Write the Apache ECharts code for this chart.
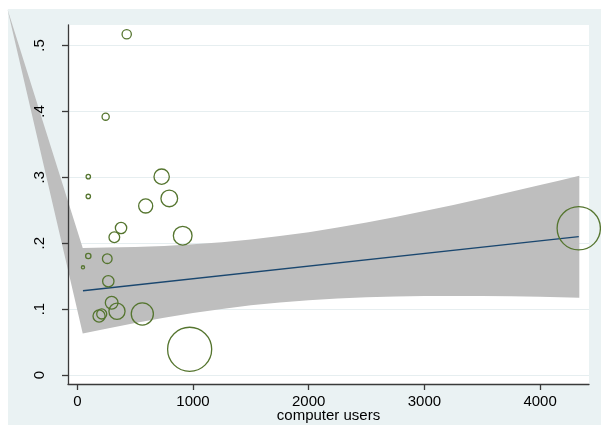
<!DOCTYPE html>
<html><head><meta charset="utf-8">
<script src="https://cdn.jsdelivr.net/npm/echarts@6/dist/echarts.min.js"></script>
<style>html,body{margin:0;padding:0;background:#fff}#c{width:601px;height:425px}</style>
</head><body><div id="c"></div>
<script>
// scatter: computer users (x), share (y), weight (marker area)
const usersX = [427, 245, 95, 95, 729, 795, 591, 378, 320, 911, 95, 49, 259, 268, 297, 343, 188, 211, 562, 971, 4334];
const shareY = [0.517, 0.392, 0.301, 0.271, 0.301, 0.268, 0.2565, 0.223, 0.209, 0.2114, 0.1806, 0.1634, 0.1765, 0.1422, 0.1097, 0.0967, 0.0895, 0.0926, 0.0926, 0.039, 0.2226];
const weights = [28, 18, 8, 8, 69, 81, 59, 40, 36, 100, 11, 5, 30, 40, 49, 76, 45, 32, 137, 515, 497];
// linear fit
const fitX = [49, 4334];
const fitY = [0.1279, 0.2099];
// confidence band
const ciX = [47, 250, 500, 750, 1000, 1250, 1500, 1750, 2000, 2250, 2500, 2750, 3000, 3250, 3500, 3750, 4000, 4170, 4339];
const ciUpper = [0.1929, 0.1933, 0.1944, 0.1959, 0.1983, 0.2015, 0.2057, 0.2108, 0.2168, 0.2237, 0.2315, 0.2398, 0.2487, 0.2581, 0.2679, 0.2779, 0.2882, 0.2952, 0.3024];
const ciLower = [0.0629, 0.0702, 0.0788, 0.0867, 0.0939, 0.1002, 0.1057, 0.1101, 0.1136, 0.1162, 0.1181, 0.1192, 0.1199, 0.1200, 0.1199, 0.1194, 0.1186, 0.1180, 0.1174];
const ciApex = [-604, 0.5554];
// ticks
const xTicks = [0, 1000, 2000, 3000, 4000];
const xTickLabels = ['0', '1000', '2000', '3000', '4000'];
const yTicks = [0, 0.1, 0.2, 0.3, 0.4, 0.5];
const yTickLabels = ['0', '.1', '.2', '.3', '.4', '.5'];

const bandPts = [ciApex]
  .concat(ciX.map((x, i) => [x, ciUpper[i]]))
  .concat(ciX.map((x, i) => [x, ciLower[i]]).reverse());

function labelFor(ticks, labels, v) {
  for (let i = 0; i < ticks.length; i++) if (Math.abs(ticks[i] - v) < 1e-9) return labels[i];
  return '';
}
const font = { fontFamily: 'Liberation Sans', fontSize: 15, color: '#000' };
const axisCol = '#3a3a3a';
const yMin = -0.01366, yMax = 0.5311;

const chart = echarts.init(document.getElementById('c'), null, { renderer: 'canvas' });
chart.setOption({
  animation: false,
  backgroundColor: '#ffffff',
  graphic: [{
    type: 'rect', left: 8, top: 9, z: -100,
    shape: { width: 593, height: 416 },
    style: { fill: '#EAF2F3' }
  }],
  grid: { left: 68, right: 12, top: 25, bottom: 41, show: true, backgroundColor: '#ffffff', borderWidth: 0, outerBoundsMode: 'none', containLabel: false },
  xAxis: {
    type: 'value', min: -80.4, max: 4422.6, z: 10,
    axisLine: { show: true, onZero: false, lineStyle: { color: axisCol, width: 1.3 } },
    axisTick: { show: true, length: 6, customValues: xTicks, lineStyle: { color: axisCol, width: 1.3 } },
    axisLabel: { customValues: xTicks, margin: 10, formatter: v => labelFor(xTicks, xTickLabels, v), ...font },
    splitLine: { show: false },
    name: 'computer users', nameLocation: 'middle', nameGap: 24, nameMoveOverlap: false,
    nameTextStyle: { ...font }
  },
  yAxis: [
    {
      type: 'value', min: yMin, max: yMax, z: 0,
      axisLine: { show: false }, axisTick: { show: false, customValues: yTicks },
      axisLabel: { show: false, customValues: yTicks },
      splitLine: { show: true, lineStyle: { color: '#E6EEF0', width: 1.2 } }
    },
    {
      type: 'value', min: yMin, max: yMax, z: 10, position: 'left', offset: 0,
      axisLine: { show: true, onZero: false, lineStyle: { color: axisCol, width: 1.3 } },
      axisTick: { show: true, length: 6, customValues: yTicks, lineStyle: { color: axisCol, width: 1.3 } },
      axisLabel: { customValues: yTicks, rotate: 90, margin: 21, formatter: v => labelFor(yTicks, yTickLabels, v), ...font },
      splitLine: { show: false }
    }
  ],
  series: [
    {
      type: 'custom', clip: false, z: 2, yAxisIndex: 0,
      data: [[0, 0]],
      renderItem: function (params, api) {
        const pts = bandPts.map(p => api.coord(p));
        return { type: 'polygon', shape: { points: pts }, style: { fill: '#BEBEBE' } };
      }
    },
    {
      type: 'line', z: 3, showSymbol: false, symbol: 'none', yAxisIndex: 0,
      data: fitX.map((x, i) => [x, fitY[i]]),
      lineStyle: { color: '#1A476F', width: 1.4 }
    },
    {
      type: 'scatter', z: 4, clip: false, yAxisIndex: 0,
      data: usersX.map((x, i) => [x, shareY[i], weights[i]]),
      symbol: 'circle',
      symbolSize: v => 2 * Math.sqrt(v[2]) - 1.3,
      itemStyle: { color: 'rgba(0,0,0,0)', borderColor: '#55752F', borderWidth: 1.3, opacity: 1 }
    }
  ]
});
</script></body></html>
